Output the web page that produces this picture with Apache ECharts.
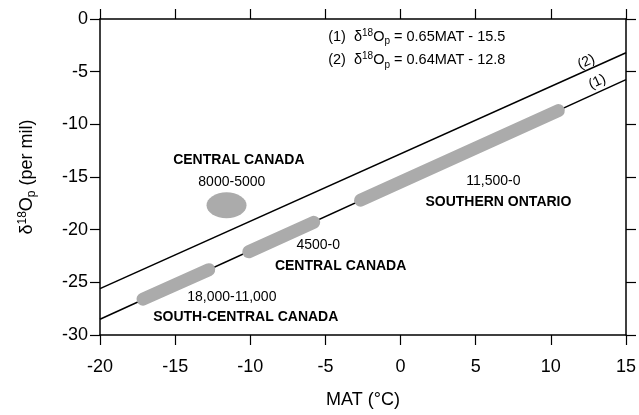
<!DOCTYPE html>
<html>
<head>
<meta charset="utf-8">
<script src="https://cdn.jsdelivr.net/npm/echarts@6/dist/echarts.min.js"></script>
<style>html,body{margin:0;padding:0;background:#fff;}#c{width:639px;height:415px;}</style>
</head>
<body>
<div id="c"></div>
<script>
// ---- data ----
const xTicks = [-20, -15, -10, -5, 0, 5, 10, 15];
const yTicks = [-30, -25, -20, -15, -10, -5, 0];
// regression lines (end points)
const line1X = [-20, 15];
const line1Y = [-28.5, -5.75];
const line2X = [-20, 15];
const line2Y = [-25.6, -3.2];
// shaded bands (end points of each band along line 1)
const bandSC_X = [-17.14, -12.76];
const bandSC_Y = [-26.6, -23.8];
const bandCC_X = [-10.1, -5.78];
const bandCC_Y = [-22.1, -19.3];
const bandSO_X = [-2.66, 10.5];
const bandSO_Y = [-17.2, -8.7];
// isolated ellipse (Central Canada 8000-5000)
const blobX = [-11.58];
const blobY = [-17.69];
// annotations
const noteText = ['CENTRAL CANADA', '8000-5000', '11,500-0', 'SOUTHERN ONTARIO', '4500-0', 'CENTRAL CANADA', '18,000-11,000', 'SOUTH-CENTRAL CANADA'];
const noteX = [-10.76, -11.23, 6.18, 6.51, -5.48, -3.99, -11.23, -10.3];
const noteY = [-13.39, -15.45, -15.4, -17.35, -21.5, -23.45, -26.4, -28.3];
const noteBold = [true, false, false, true, false, true, false, true];
const eqText = ['(1)  δ{sup|18}O{sub|p} = 0.65MAT - 15.5', '(2)  δ{sup|18}O{sub|p} = 0.64MAT - 12.8'];
const eqX = [-4.85, -4.85];
const eqY = [-1.68, -3.89];
const lineTag = ['(2)', '(1)'];
const lineTagX = [12.36, 13.09];
const lineTagY = [-4.07, -5.97];

// ---- chart ----
const FONT = '"Liberation Sans", Arial, Helvetica, sans-serif';
const GRAY = '#ababab';
const zip = (xs, ys) => xs.map((x, i) => [x, ys[i]]);

const axisCommon = {
  type: 'value',
  axisLine: { show: true, onZero: false, lineStyle: { color: '#000', width: 1.5 } },
  axisTick: { show: true, inside: false, length: 10, lineStyle: { color: '#000', width: 1.2 } },
  splitLine: { show: false }
};

const chart = echarts.init(document.getElementById('c'), null, { renderer: 'canvas' });
const bandStyle = { color: GRAY, width: 13, cap: 'round', opacity: 1 };
const noteSeries = (data) => ({
  type: 'scatter', symbolSize: 1, z: 6, silent: true,
  itemStyle: { color: 'rgba(0,0,0,0)', opacity: 1 },
  data: data
});
chart.setOption({
  animation: false,
  backgroundColor: '#fff',
  textStyle: { fontFamily: FONT },
  grid: { left: 100, right: 13, top: 19, bottom: 80 },
  xAxis: [
    Object.assign({}, axisCommon, {
      position: 'bottom', min: xTicks[0], max: xTicks[xTicks.length - 1], interval: 5,
      name: 'MAT (°C)', nameLocation: 'middle', nameGap: 56,
      nameTextStyle: { fontFamily: FONT, fontSize: 18, color: '#000' },
      axisLabel: { margin: 23, fontFamily: FONT, fontSize: 18, color: '#000' }
    }),
    Object.assign({}, axisCommon, {
      position: 'top', min: xTicks[0], max: xTicks[xTicks.length - 1], interval: 5,
      axisLabel: { show: false }
    })
  ],
  yAxis: [
    Object.assign({}, axisCommon, {
      position: 'left', min: yTicks[0], max: yTicks[yTicks.length - 1], interval: 5,
      name: '{n|δ}{sup|18}{n|O}{sub|p}{n| (per mil)}', nameLocation: 'middle', nameGap: 62, nameRotate: 90,
      nameTextStyle: {
        fontFamily: FONT, fontSize: 18, color: '#000',
        rich: {
          n: { fontFamily: FONT, fontSize: 18, color: '#000' },
          sup: { fontFamily: FONT, fontSize: 12, color: '#000', padding: [0, 0, 9, 0] },
          sub: { fontFamily: FONT, fontSize: 12, color: '#000', padding: [9, 0, 0, 0] }
        }
      },
      axisLabel: { margin: 12, fontFamily: FONT, fontSize: 18, color: '#000' }
    }),
    Object.assign({}, axisCommon, {
      position: 'right', min: yTicks[0], max: yTicks[yTicks.length - 1], interval: 5,
      axisLabel: { show: false }
    })
  ],
  series: [
    { type: 'line', data: zip(line1X, line1Y), showSymbol: false, lineStyle: { color: '#000', width: 1.5 }, z: 2 },
    { type: 'line', data: zip(line2X, line2Y), showSymbol: false, lineStyle: { color: '#000', width: 1.5 }, z: 2 },
    { type: 'line', data: zip(bandSC_X, bandSC_Y), showSymbol: false, lineStyle: bandStyle, z: 3 },
    { type: 'line', data: zip(bandCC_X, bandCC_Y), showSymbol: false, lineStyle: bandStyle, z: 3 },
    { type: 'line', data: zip(bandSO_X, bandSO_Y), showSymbol: false, lineStyle: bandStyle, z: 3 },
    { type: 'scatter', data: zip(blobX, blobY), symbol: 'circle', symbolSize: [40, 26], itemStyle: { color: GRAY, opacity: 1 }, z: 3 },
    noteSeries(noteText.map((t, i) => ({
      value: [noteX[i], noteY[i]],
      label: {
        show: true, position: 'inside', formatter: t, color: '#000', opacity: 1, textBorderWidth: 0,
        fontFamily: FONT, fontSize: 14, fontWeight: noteBold[i] ? 'bold' : 'normal'
      }
    }))),
    noteSeries(eqText.map((t, i) => ({
      value: [eqX[i], eqY[i]],
      label: {
        show: true, position: 'right', distance: 0, formatter: t, color: '#000', opacity: 1, textBorderWidth: 0,
        fontFamily: FONT, fontSize: 14.5,
        rich: {
          sup: { fontFamily: FONT, fontSize: 10, color: '#000', padding: [0, 0, 7, 0] },
          sub: { fontFamily: FONT, fontSize: 10, color: '#000', padding: [10, 0, 0, 0] }
        }
      }
    }))),
    noteSeries(lineTag.map((t, i) => ({
      value: [lineTagX[i], lineTagY[i]],
      label: {
        show: true, position: 'inside', formatter: t, color: '#000', opacity: 1, textBorderWidth: 0,
        fontFamily: FONT, fontSize: 14, rotate: 24
      }
    })))
  ]
});
</script>
</body>
</html>
